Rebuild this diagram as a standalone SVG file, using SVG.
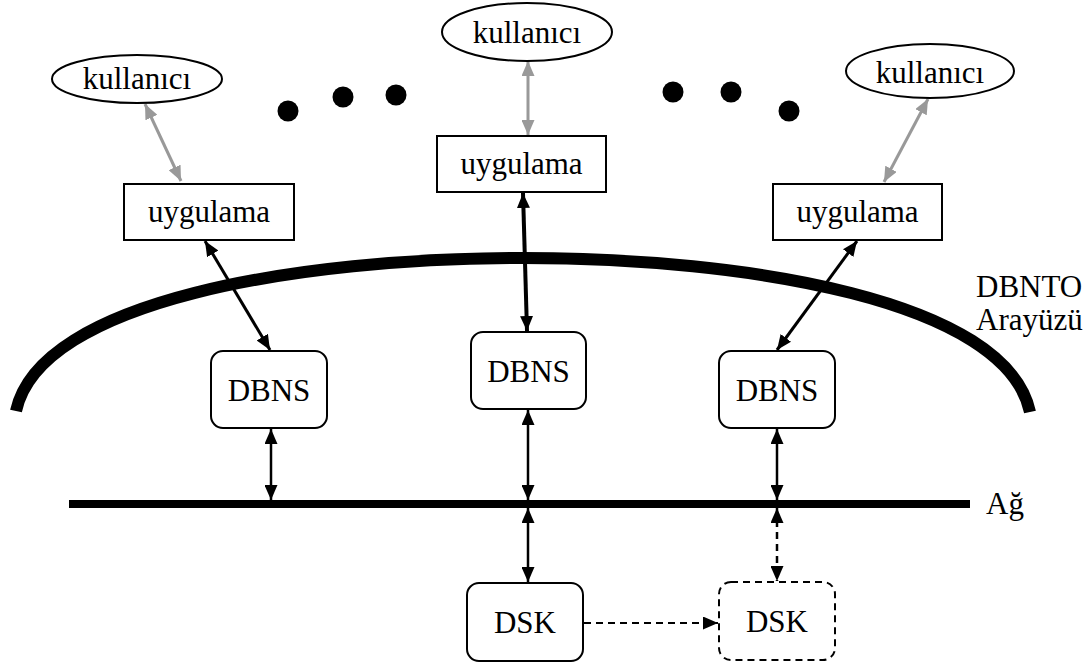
<svg xmlns="http://www.w3.org/2000/svg" width="1090" height="668" viewBox="0 0 1090 668">
<style>
text{font-family:"Liberation Serif","DejaVu Serif","Times New Roman",serif;font-size:31px;fill:#000}
.m{text-anchor:middle}
.box{fill:#fff;stroke:#000;stroke-width:2}
.ell{fill:#fff;stroke:#000;stroke-width:2}
.blk{stroke:#000;fill:none}
.gry{stroke:#999;stroke-width:3;fill:none}
.dash{stroke-dasharray:7,5}
</style>
<defs>
<marker id="ah" markerWidth="15" markerHeight="13" refX="15" refY="6.5" orient="auto-start-reverse" markerUnits="userSpaceOnUse"><path d="M0,0 L15,6.5 L0,13 z" fill="#000"/></marker>
<marker id="ahg" markerWidth="15" markerHeight="13" refX="15" refY="6.5" orient="auto-start-reverse" markerUnits="userSpaceOnUse"><path d="M0,0 L15,6.5 L0,13 z" fill="#999"/></marker>
</defs>
<rect width="1090" height="668" fill="#fff"/>

<g id="interface-arc">
<path d="M16,411 C40,300 300,258 523,258 C746,258 1006,300 1030,412" fill="none" stroke="#000" stroke-width="12"/>
</g>
<g id="network-line">
<line x1="69" y1="504" x2="970" y2="504" stroke="#000" stroke-width="8"/>
</g>
<g id="dots">
<circle cx="288" cy="111" r="10.5"/>
<circle cx="343" cy="97" r="10.5"/>
<circle cx="396" cy="95" r="10.5"/>
<circle cx="673" cy="92" r="10.5"/>
<circle cx="731" cy="92" r="10.5"/>
<circle cx="789" cy="111" r="10.5"/>
</g>

<g id="connectors">
<line class="gry" x1="145" y1="104" x2="181" y2="181" marker-start="url(#ahg)" marker-end="url(#ahg)"/>
<line class="gry" x1="528" y1="61" x2="528" y2="135" marker-start="url(#ahg)" marker-end="url(#ahg)"/>
<line class="gry" x1="928" y1="99" x2="884" y2="182" marker-start="url(#ahg)" marker-end="url(#ahg)"/>
<line class="blk" stroke-width="3" x1="205" y1="241" x2="270" y2="350" marker-start="url(#ah)" marker-end="url(#ah)"/>
<line class="blk" stroke-width="4" x1="523" y1="193" x2="527" y2="331" marker-start="url(#ah)" marker-end="url(#ah)"/>
<line class="blk" stroke-width="3" x1="857" y1="241" x2="777" y2="350" marker-start="url(#ah)" marker-end="url(#ah)"/>
<line class="blk" stroke-width="2.5" x1="271" y1="429" x2="271" y2="500" marker-start="url(#ah)" marker-end="url(#ah)"/>
<line class="blk" stroke-width="2.5" x1="528" y1="410" x2="528" y2="500" marker-start="url(#ah)" marker-end="url(#ah)"/>
<line class="blk" stroke-width="2.5" x1="777" y1="429" x2="777" y2="500" marker-start="url(#ah)" marker-end="url(#ah)"/>
<line class="blk" stroke-width="2.5" x1="528" y1="508" x2="528" y2="582" marker-start="url(#ah)" marker-end="url(#ah)"/>
<line class="blk dash" stroke-width="2.5" x1="777" y1="508" x2="777" y2="581" marker-start="url(#ah)" marker-end="url(#ah)"/>
<line class="blk dash" stroke-width="2" x1="584" y1="623" x2="718" y2="623" marker-end="url(#ah)"/>
</g>

<g id="user-left"><ellipse class="ell" cx="137" cy="79" rx="85" ry="24"/><text class="m" x="137" y="89">kullanıcı</text></g>
<g id="user-mid"><ellipse class="ell" cx="527" cy="32" rx="85" ry="29"/><text class="m" x="527" y="43">kullanıcı</text></g>
<g id="user-right"><ellipse class="ell" cx="930" cy="71" rx="84" ry="27"/><text class="m" x="930" y="83">kullanıcı</text></g>

<g id="app-left"><rect class="box" x="124" y="184" width="170" height="56"/><text class="m" x="209" y="222">uygulama</text></g>
<g id="app-mid"><rect class="box" x="437" y="136" width="169" height="56"/><text class="m" x="521.5" y="174">uygulama</text></g>
<g id="app-right"><rect class="box" x="773" y="184" width="169" height="56"/><text class="m" x="857.5" y="222">uygulama</text></g>

<g id="dbns-left"><rect class="box" x="211" y="351" width="116" height="77" rx="12"/><text class="m" x="269" y="401">DBNS</text></g>
<g id="dbns-mid"><rect class="box" x="471" y="332" width="115" height="77" rx="12"/><text class="m" x="528.5" y="382">DBNS</text></g>
<g id="dbns-right"><rect class="box" x="719" y="351" width="116" height="77" rx="12"/><text class="m" x="777" y="401">DBNS</text></g>

<g id="dsk-1"><rect class="box" x="467" y="583" width="116" height="78" rx="12"/><text class="m" x="525" y="633">DSK</text></g>
<g id="dsk-2"><rect class="box dash" x="719" y="582" width="116" height="78" rx="12"/><text class="m" x="777" y="632">DSK</text></g>

<g id="labels">
<text x="976" y="297">DBNTO</text>
<text x="976" y="330">Arayüzü</text>
<text x="986" y="514">Ağ</text>
</g>
</svg>
